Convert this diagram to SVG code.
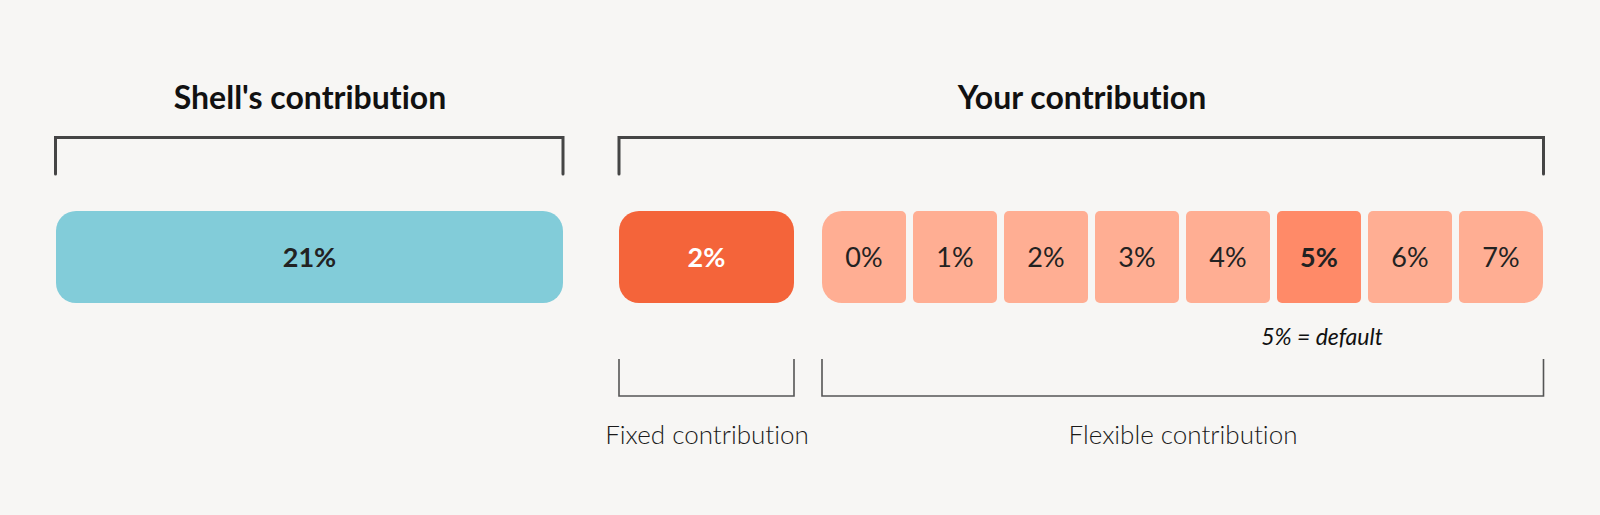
<svg xmlns="http://www.w3.org/2000/svg" width="1600" height="515" viewBox="0 0 1600 515">
<style>
text{font-variant-ligatures:none;font-feature-settings:"liga" 0,"dlig" 0}
.title{font-family:Lato,"Noto Sans",sans-serif;font-weight:700;font-size:32px;fill:#111;text-anchor:middle}
.big{fill:none;stroke:#454545;stroke-width:3;stroke-linecap:round}
.small{fill:none;stroke:#555;stroke-width:1.6}
.num{font-family:Lato,"Noto Sans",sans-serif;font-size:27px;fill:#222;text-anchor:middle}
.numb{font-family:Lato,"Noto Sans",sans-serif;font-weight:700;font-size:27px;fill:#222;text-anchor:middle}
.lbl{font-family:Lato,"Noto Sans",sans-serif;font-weight:300;font-size:26px;fill:#1a1a1a;text-anchor:middle}
.note{font-family:Lato,"Noto Sans",sans-serif;font-style:italic;font-weight:400;font-size:23px;fill:#111;text-anchor:middle}
.flex{fill:#ffae93}
</style>
<rect width="1600" height="515" fill="#f7f6f4"/>
<text class="title" x="310" y="109">Shell's contribution</text>
<text class="title" x="1082" y="109">Your contribution</text>
<g id="connectors">
<path class="big" d="M55.5,174 V137.5 H563 V174"/>
<path class="big" d="M619,174 V137.5 H1543.5 V174"/>
<path class="small" d="M619,359 V396 H794 V359"/>
<path class="small" d="M822,359 V396 H1543.5 V359"/>
</g>
<g id="shell"><rect x="56" y="211" width="507" height="92" rx="20" fill="#82ccd9"/><text class="numb" x="309.5" y="267">21%</text></g>
<g id="fixed"><rect x="619" y="211" width="175" height="92" rx="20" fill="#f4643a"/><text class="numb" x="706.5" y="267" style="fill:#fff">2%</text></g>
<g id="f0"><path class="flex" d="M842,211 H901 a5,5 0 0 1 5,5 V298 a5,5 0 0 1 -5,5 H842 a20,20 0 0 1 -20,-20 V231 a20,20 0 0 1 20,-20 Z"/><text class="num" x="864" y="267">0%</text></g>
<g id="f1"><rect class="flex" x="913" y="211" width="84" height="92" rx="5"/><text class="num" x="955" y="267">1%</text></g>
<g id="f2"><rect class="flex" x="1004" y="211" width="84" height="92" rx="5"/><text class="num" x="1046" y="267">2%</text></g>
<g id="f3"><rect class="flex" x="1095" y="211" width="84" height="92" rx="5"/><text class="num" x="1137" y="267">3%</text></g>
<g id="f4"><rect class="flex" x="1186" y="211" width="84" height="92" rx="5"/><text class="num" x="1228" y="267">4%</text></g>
<g id="f5"><rect x="1277" y="211" width="84" height="92" rx="5" fill="#ff8a68"/><text class="numb" x="1319" y="267">5%</text></g>
<g id="f6"><rect class="flex" x="1368" y="211" width="84" height="92" rx="5"/><text class="num" x="1410" y="267">6%</text></g>
<g id="f7"><path class="flex" d="M1464,211 H1523 a20,20 0 0 1 20,20 V283 a20,20 0 0 1 -20,20 H1464 a5,5 0 0 1 -5,-5 V216 a5,5 0 0 1 5,-5 Z"/><text class="num" x="1501" y="267">7%</text></g>
<text class="note" x="1322" y="345">5% = default</text>
<text class="lbl" x="707" y="444">Fixed contribution</text>
<text class="lbl" x="1183" y="444">Flexible contribution</text>
</svg>
